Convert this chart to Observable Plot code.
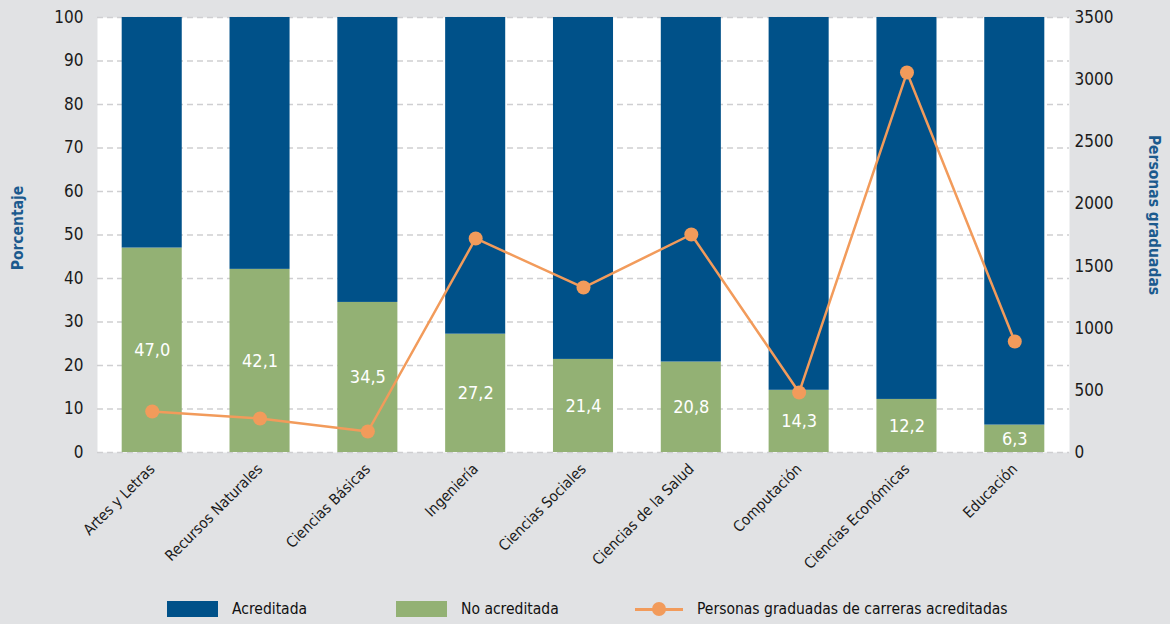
<!DOCTYPE html>
<html>
<head>
<meta charset="utf-8">
<script src="https://cdn.jsdelivr.net/npm/d3@7"></script>
<script src="https://cdn.jsdelivr.net/npm/@observablehq/plot@0.6"></script>
<style>
  html, body { margin: 0; padding: 0; background: #e1e2e4; }
  #wrap { position: relative; width: 1170px; height: 624px; overflow: hidden; font-family: "DejaVu Sans", sans-serif; font-stretch: condensed; }
  svg text { font-stretch: condensed; }
  #legend { position: absolute; left: 0; top: 596px; width: 1170px; height: 28px; font-size: 15.5px; color: #111; }
  .li { position: absolute; top: 0; display: flex; align-items: center; height: 26px; }
  .sw { width: 51px; height: 16px; margin-right: 14px; }
  .ln { position: relative; width: 48px; height: 3px; background: #f29b5b; margin-right: 14px; }
  .ln::after { content: ""; position: absolute; left: 17px; top: -6px; width: 14px; height: 14px; border-radius: 50%; background: #f29b5b; }
  .ttl { position: absolute; color: #1b5a8e; font-weight: bold; font-size: 15.5px; white-space: nowrap; }
</style>
</head>
<body>
<div id="wrap">
  <div id="chart"></div>
  <div class="ttl" style="left:18px; top:228px; transform: translate(-50%, -50%) rotate(-90deg);">Porcentaje</div>
  <div class="ttl" style="left:1154px; top:215px; transform: translate(-50%, -50%) rotate(90deg);">Personas graduadas</div>
  <div id="legend">
    <div class="li" style="left:167px"><div class="sw" style="background:#005189"></div>Acreditada</div>
    <div class="li" style="left:396px"><div class="sw" style="background:#93b174"></div>No acreditada</div>
    <div class="li" style="left:635px"><div class="ln"></div>Personas graduadas de carreras acreditadas</div>
  </div>
</div>
<script>
const categories = ["Artes y Letras","Recursos Naturales","Ciencias Básicas","Ingeniería","Ciencias Sociales","Ciencias de la Salud","Computación","Ciencias Económicas","Educación"];
const noAcreditada = [47.0, 42.1, 34.5, 27.2, 21.4, 20.8, 14.3, 12.2, 6.3];
const graduados = [330, 273, 169, 1722, 1327, 1754, 483, 3057, 893];
const rightTicks = [0, 500, 1000, 1500, 2000, 2500, 3000, 3500];
const leftTicks = [0, 10, 20, 30, 40, 50, 60, 70, 80, 90, 100];

const RMAX = 3500;
const k = 100 / RMAX;

const stacked = [];
categories.forEach((c, i) => {
  stacked.push({cat: c, serie: "No acreditada", v: noAcreditada[i]});
});
categories.forEach((c, i) => {
  stacked.push({cat: c, serie: "Acreditada", v: +(100 - noAcreditada[i]).toFixed(1)});
});
const rows = categories.map((c, i) => ({cat: c, no: noAcreditada[i], g: graduados[i]}));

const fmt = v => v.toFixed(1).replace(".", ",");
const font = "DejaVu Sans, sans-serif";

const chart = Plot.plot({
  width: 1170,
  height: 592,
  marginLeft: 97,
  marginRight: 101,
  marginTop: 17,
  marginBottom: 140,
  style: {background: "transparent", fontFamily: font, fontSize: "17px", color: "#1a1a1a", overflow: "visible"},
  x: {domain: categories, paddingInner: 0.443, paddingOuter: 0.229, round: false, label: null},
  y: {domain: [0, 100], label: null},
  color: {domain: ["No acreditada", "Acreditada"], range: ["#93b174", "#005189"]},
  marks: [
    Plot.frame({fill: "white", stroke: null}),
    Plot.ruleY(leftTicks, {stroke: "#cfcfd1", strokeWidth: 1.5, strokeDasharray: "6,4"}),
    Plot.barY(stacked, {x: "cat", y: "v", fill: "serie"}),
    Plot.text(rows, {x: "cat", y: d => d.no / 2, text: d => fmt(d.no), fill: "white", fontSize: 18}),
    Plot.line(rows, {x: "cat", y: d => d.g * k, stroke: "#f29b5b", strokeWidth: 2.5}),
    Plot.dot(rows, {x: "cat", y: d => d.g * k, r: 7, fill: "#f29b5b"}),
    Plot.axisY(leftTicks, {anchor: "left", tickSize: 0, tickPadding: 14, fontSize: 17, label: null}),
    Plot.axisY(rightTicks.map(v => v * k), {anchor: "right", tickSize: 0, tickPadding: 5, fontSize: 17, tickFormat: d => String(Math.round(d / k)), label: null}),
    Plot.axisX({tickSize: 0, tickRotate: -45, tickPadding: 14, fontSize: 15, label: null})
  ]
});
document.getElementById("chart").appendChild(chart);
</script>
</body>
</html>
